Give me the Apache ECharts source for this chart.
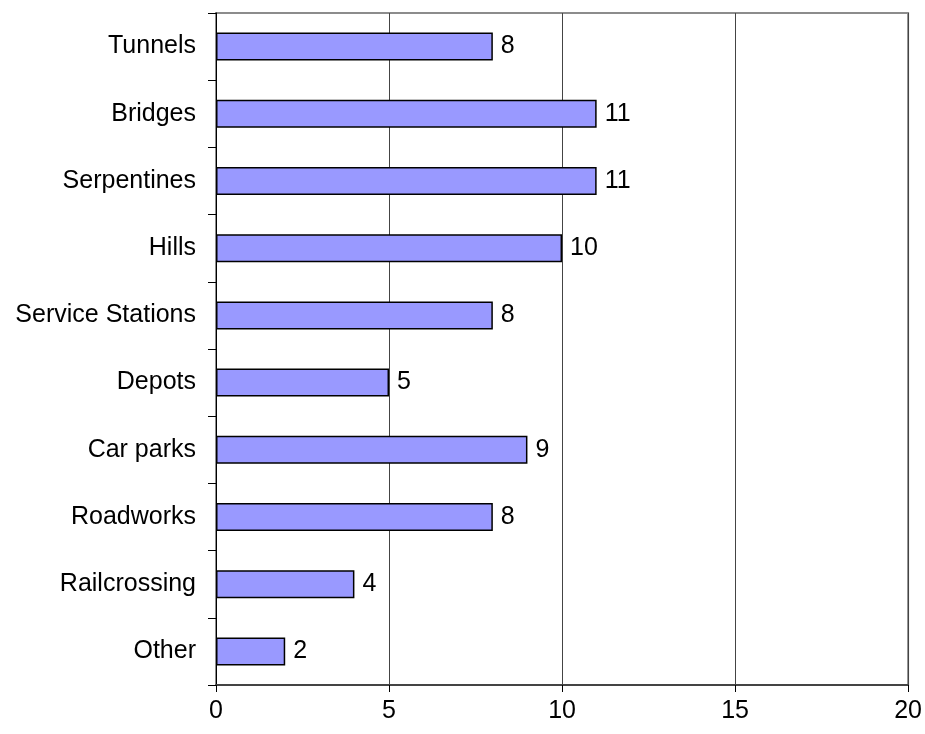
<!DOCTYPE html>
<html>
<head>
<meta charset="utf-8">
<script src="https://cdn.jsdelivr.net/npm/echarts@6/dist/echarts.min.js"></script>
<style>
  html, body { margin: 0; padding: 0; background: #fff; }
  #chart { width: 925px; height: 734px; }
</style>
</head>
<body>
<div id="chart"></div>
<script>
// Road features, listed bottom to top as the category axis draws them
var categories = ['Other', 'Railcrossing', 'Roadworks', 'Car parks', 'Depots',
  'Service Stations', 'Hills', 'Serpentines', 'Bridges', 'Tunnels'];
var counts = [2, 4, 8, 9, 5, 8, 10, 11, 11, 8];
var xTicks = [0, 5, 10, 15, 20];

var chart = echarts.init(document.getElementById('chart'), null, { renderer: 'canvas' });

var fontFamily = '"Liberation Sans", Arial, sans-serif';
var fontSize = 25;

chart.setOption({
  animation: false,
  backgroundColor: '#ffffff',
  grid: {
    left: 216, right: 16, top: 13, bottom: 49,
    show: true,
    borderColor: '#8c8c8c',
    borderWidth: 2,
    backgroundColor: 'transparent'
  },
  xAxis: {
    type: 'value',
    min: xTicks[0],
    max: xTicks[xTicks.length - 1],
    interval: 5,
    axisLine: { show: true, onZero: false, lineStyle: { color: '#444', width: 2 } },
    axisTick: { show: true, length: 7, lineStyle: { color: '#000', width: 1 } },
    splitLine: { show: true, lineStyle: { color: '#444', width: 1 } },
    axisLabel: { color: '#000', fontSize: fontSize, fontFamily: fontFamily, margin: 14 }
  },
  yAxis: {
    type: 'category',
    data: categories,
    axisLine: { show: true, lineStyle: { color: '#000', width: 1 } },
    axisTick: { show: true, length: 8, alignWithLabel: false, lineStyle: { color: '#000', width: 1 } },
    axisLabel: { color: '#000', fontSize: fontSize, fontFamily: fontFamily, margin: 20 }
  },
  series: [{
    type: 'bar',
    data: counts,
    barWidth: 28,
    itemStyle: { color: '#9999ff', borderColor: '#000', borderWidth: 1.5 },
    label: {
      show: true,
      position: 'right',
      distance: 8,
      color: '#000',
      fontSize: fontSize,
      fontFamily: fontFamily
    }
  }]
});
</script>
</body>
</html>
